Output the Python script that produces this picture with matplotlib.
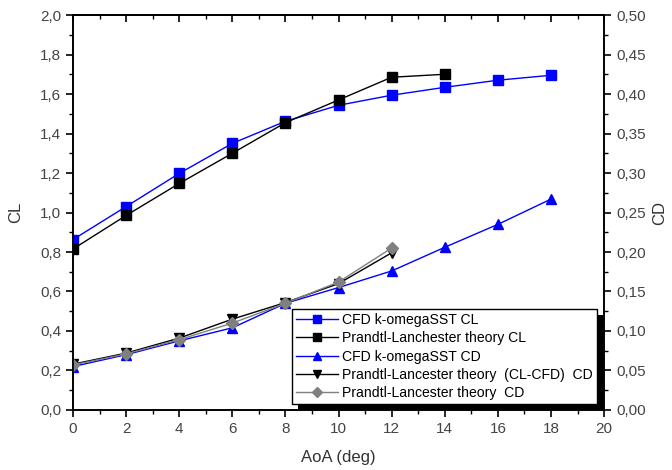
import matplotlib
matplotlib.use("Agg")
import matplotlib.pyplot as plt
from matplotlib.ticker import MultipleLocator, FuncFormatter
from matplotlib.patches import Rectangle

# angle of attack
aoa_cfd = [0, 2, 4, 6, 8, 10, 12, 14, 16, 18]
aoa_pl_cl = [0, 2, 4, 6, 8, 10, 12, 14]
aoa_pl_cd = [0, 2, 4, 6, 8, 10, 12]

# lift coefficient
cl_cfd = [0.863, 1.03, 1.198, 1.35, 1.462, 1.543, 1.594, 1.634, 1.67, 1.695]
cl_pl = [0.815, 0.985, 1.147, 1.30, 1.455, 1.57, 1.685, 1.70]

# drag coefficient
cd_cfd = [0.055, 0.070, 0.0875, 0.104, 0.135, 0.155, 0.176, 0.206, 0.235, 0.267]
cd_pl_clcfd = [0.058, 0.072, 0.091, 0.115, 0.136, 0.160, 0.199]
cd_pl = [0.057, 0.071, 0.089, 0.110, 0.135, 0.162, 0.205]

labels = ["CFD k-omegaSST CL",
          "Prandtl-Lanchester theory CL",
          "CFD k-omegaSST CD",
          "Prandtl-Lancester theory  (CL-CFD)  CD",
          "Prandtl-Lancester theory  CD"]

plt.rcParams['font.family'] = ['Liberation Sans', 'DejaVu Sans']

fig = plt.figure(figsize=(6.72, 4.70), dpi=100)
ax = fig.add_axes([0.1086, 0.1277, 0.7904, 0.8403])
ax2 = ax.twinx()

h1, = ax.plot(aoa_cfd, cl_cfd, color='#0000ff', marker='s', ms=6.5, lw=1, label=labels[0])
h2, = ax.plot(aoa_pl_cl, cl_pl, color='black', marker='s', ms=6.5, lw=1, label=labels[1])
h3, = ax2.plot(aoa_cfd, cd_cfd, color='#0000ff', marker='^', ms=7.5, lw=1, label=labels[2])
h4, = ax2.plot(aoa_pl_cd, cd_pl_clcfd, color='black', marker='v', ms=7.5, lw=1, label=labels[3])
h5, = ax2.plot(aoa_pl_cd, cd_pl, color='#808080', marker='D', ms=6.5, lw=1, label=labels[4])

ax.set_xlim(0, 20)
ax.set_ylim(0, 2.0)
ax2.set_ylim(0, 0.5)

comma = lambda fmt: FuncFormatter(lambda v, p: (fmt % v).replace('.', ','))
ax.xaxis.set_major_locator(MultipleLocator(2))
ax.xaxis.set_minor_locator(MultipleLocator(1))
ax.yaxis.set_major_locator(MultipleLocator(0.2))
ax.yaxis.set_minor_locator(MultipleLocator(0.1))
ax.yaxis.set_major_formatter(comma('%.1f'))
ax2.yaxis.set_major_locator(MultipleLocator(0.05))
ax2.yaxis.set_minor_locator(MultipleLocator(0.025))
ax2.yaxis.set_major_formatter(comma('%.2f'))

tick_col = '#444444'
ax.tick_params(axis='x', which='both', direction='out', labelsize=11, labelcolor=tick_col)
ax.tick_params(axis='x', which='major', length=5, width=1.2)
ax.tick_params(axis='x', which='minor', length=3, width=1)
ax.tick_params(axis='y', which='major', direction='out', length=5, width=1.2, labelsize=11, labelcolor=tick_col)
ax.tick_params(axis='y', which='minor', direction='out', length=3, width=1)
ax2.tick_params(axis='y', which='major', direction='out', length=5, width=1.2, labelsize=11, labelcolor=tick_col)
ax2.tick_params(axis='y', which='minor', direction='out', length=3, width=1)

# top axis: ticks pointing inward, no labels
top = ax.secondary_xaxis('top')
top.xaxis.set_major_locator(MultipleLocator(2))
top.xaxis.set_minor_locator(MultipleLocator(1))
top.tick_params(which='both', direction='in', labeltop=False)
top.tick_params(which='major', length=5, width=1.2)
top.tick_params(which='minor', length=3, width=1)
top.spines['top'].set_linewidth(1.2)

for a in (ax, ax2):
    for s in a.spines.values():
        s.set_linewidth(1.2)

ax.set_xlabel("AoA (deg)", fontsize=12, labelpad=10, color='#333333')
ax.set_ylabel("CL", fontsize=12, labelpad=12, color='#333333')
ax2.set_ylabel("CD", fontsize=12, labelpad=5, color='#333333')

leg = ax2.legend(handles=[h1, h2, h3, h4, h5], loc='upper left',
                 bbox_to_anchor=(0.412, 0.256), borderaxespad=0,
                 fontsize=10.1, handlelength=3.0, handletextpad=0.3,
                 labelspacing=0.3, borderpad=0.3, fancybox=False,
                 markerscale=0.8, framealpha=1, edgecolor='black')
leg.get_frame().set_linewidth(1)

# Origin-style solid shadow behind the legend box
fig.canvas.draw()
bb = leg.get_window_extent()
shadow = Rectangle((bb.x0 + 6, bb.y0 - 6), bb.width, bb.height,
                   transform=None, facecolor='black', edgecolor='none',
                   zorder=4, clip_on=False)
ax2.add_artist(shadow)
leg.set_zorder(5)

fig.savefig("out.png", dpi=100)
